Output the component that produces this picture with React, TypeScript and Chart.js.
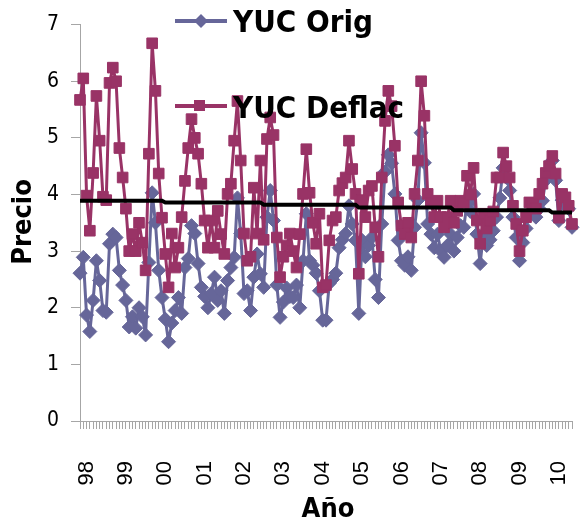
import React, { useEffect, useRef } from "react";
import { Chart, registerables } from "chart.js";

Chart.register(...registerables);

// Year tick labels (one every 12 monthly categories)
const yearLabels = ["98", "99", "00", "01", "02", "03", "04", "05", "06", "07", "08", "09", "10"];

// Monthly price series
const yucOrig = [
  2.61, 2.89, 1.87, 1.58, 2.13, 2.83, 2.48, 1.95, 1.92, 3.13, 3.3, 3.24,
  2.66, 2.4, 2.13, 1.66, 1.84, 1.64, 2.0, 1.84, 1.52, 2.8, 4.03, 3.5,
  2.66, 2.18, 1.8, 1.4, 1.73, 1.95, 2.18, 1.9, 2.71, 2.87, 3.45, 3.31,
  2.78, 2.36, 2.2, 2.0, 2.25, 2.54, 2.13, 2.3, 1.9, 2.48, 2.71, 2.89,
  3.94, 3.31, 2.25, 2.3, 1.95, 2.54, 2.95, 2.6, 2.36, 3.6, 4.07, 3.54,
  2.4, 1.83, 2.1, 2.35, 2.2, 2.18, 2.4, 2.0, 2.83, 3.66, 2.83, 2.75,
  2.61, 2.3, 1.78, 1.78, 2.43, 2.5, 2.61, 3.06, 3.2, 3.31, 3.8, 3.48,
  3.19, 1.9, 3.19, 2.9, 3.1, 3.24, 2.5, 2.18, 3.48, 4.4, 4.7, 4.55,
  4.01, 3.19, 2.83, 2.75, 2.9, 2.66, 3.42, 3.9, 5.09, 4.56, 3.48, 3.3,
  3.06, 3.3, 3.0, 2.89, 3.1, 3.3, 3.0, 3.24, 3.45, 3.42, 3.85, 3.7,
  4.01, 3.3, 2.78, 3.3, 3.1, 3.2, 3.36, 3.6, 3.94, 4.47, 4.3, 4.07,
  3.6, 3.24, 2.83, 3.15, 3.4, 3.66, 3.7, 3.6, 3.75, 3.89, 4.25, 4.4,
  4.6, 4.25, 3.54, 3.9, 3.8, 3.75, 3.42,
];

const yucDeflac = [
  5.67, 6.05, 3.98, 3.36, 4.38, 5.74, 4.95, 3.96, 3.9, 5.97, 6.24, 6.0,
  4.82, 4.3, 3.75, 3.0, 3.3, 3.0, 3.5, 3.15, 2.66, 4.72, 6.67, 5.83,
  4.37, 3.59, 2.95, 2.36, 3.31, 2.71, 3.06, 3.6, 4.24, 4.82, 5.33, 5.0,
  4.72, 4.19, 3.54, 3.06, 3.54, 3.06, 3.71, 3.3, 2.95, 4.01, 4.19, 4.95,
  5.65, 4.6, 3.31, 2.83, 2.9, 4.12, 3.31, 4.6, 3.2, 4.98, 5.36, 5.05,
  3.24, 2.54, 2.9, 3.1, 3.31, 3.0, 2.71, 3.3, 4.01, 4.8, 4.03, 3.5,
  3.13, 3.66, 2.36, 2.4, 3.19, 3.54, 3.6, 4.07, 4.2, 4.3, 4.95, 4.45,
  4.01, 2.6, 3.9, 3.6, 4.07, 4.15, 3.42, 2.9, 4.3, 5.3, 5.83, 5.56,
  4.86, 3.86, 3.45, 3.3, 3.5, 3.24, 4.01, 4.6, 6.0, 5.39, 4.01, 3.85,
  3.6, 3.89, 3.6, 3.42, 3.6, 3.89, 3.5, 3.71, 3.89, 3.85, 4.33, 4.0,
  4.47, 3.54, 3.13, 3.66, 3.4, 3.54, 3.7, 4.3, 4.3, 4.74, 4.5, 4.3,
  3.8, 3.48, 3.0, 3.36, 3.6, 3.86, 3.85, 3.75, 4.01, 4.19, 4.38, 4.5,
  4.68, 4.37, 3.59, 4.01, 3.95, 3.8, 3.48,
];

const trend = [
  3.89, 3.89, 3.89, 3.89, 3.89, 3.89, 3.89, 3.89, 3.89, 3.89, 3.89, 3.89, 3.89,
  3.89, 3.89, 3.89, 3.89, 3.89, 3.89, 3.89, 3.89, 3.89, 3.89, 3.89, 3.89, 3.89,
  3.86, 3.86, 3.86, 3.86, 3.86, 3.86, 3.86, 3.86, 3.86, 3.86, 3.86, 3.86, 3.86, 3.86, 3.86,
  3.86, 3.86, 3.86, 3.86, 3.86, 3.86, 3.86, 3.86, 3.86, 3.86, 3.86, 3.86, 3.86, 3.86, 3.86,
  3.82, 3.82, 3.82, 3.82, 3.82, 3.82, 3.82, 3.82, 3.82, 3.82, 3.82, 3.82, 3.82, 3.82, 3.82,
  3.82, 3.82, 3.82, 3.82, 3.82, 3.82, 3.82, 3.82, 3.82, 3.82, 3.82, 3.82, 3.82, 3.82,
  3.77, 3.77, 3.77, 3.77, 3.77, 3.77, 3.77, 3.77, 3.77, 3.77, 3.77, 3.77, 3.77, 3.77, 3.77,
  3.77, 3.77, 3.77, 3.77, 3.77, 3.77, 3.77, 3.77, 3.77, 3.77, 3.77, 3.77, 3.77, 3.77,
  3.72, 3.72, 3.72, 3.72, 3.72, 3.72, 3.72, 3.72, 3.72, 3.72, 3.72, 3.72, 3.72, 3.72, 3.72,
  3.72, 3.72, 3.72, 3.72, 3.72, 3.72, 3.72, 3.72, 3.72, 3.72, 3.72, 3.72, 3.72, 3.72, 3.72,
  3.68, 3.68, 3.68, 3.68, 3.68, 3.68, 3.68,
];

const ORIG_COLOR = "#666699";
const DEFLAC_COLOR = "#993366";
const AXIS_COLOR = "#a6a6a6";
const NARROW = '"Liberation Sans Narrow", "DejaVu Sans Condensed", "Liberation Sans", sans-serif';

export default function App() {
  const ref = useRef<HTMLCanvasElement>(null);

  useEffect(() => {
    if (!ref.current) return;
    const labels = yucOrig.map((_, i) =>
      i >= 2 && (i - 2) % 12 === 0 ? yearLabels[(i - 2) / 12] ?? "" : ""
    );

    const overlay = {
      id: "overlay",
      afterDraw(chart: any) {
        const ctx = chart.ctx as CanvasRenderingContext2D;
        ctx.save();
        // Legend: YUC Orig
        ctx.strokeStyle = ORIG_COLOR;
        ctx.fillStyle = ORIG_COLOR;
        ctx.lineWidth = 4;
        ctx.beginPath();
        ctx.moveTo(175, 21);
        ctx.lineTo(227, 21);
        ctx.stroke();
        ctx.beginPath();
        ctx.moveTo(201, 14);
        ctx.lineTo(208, 21);
        ctx.lineTo(201, 28);
        ctx.lineTo(194, 21);
        ctx.closePath();
        ctx.fill();
        // Legend: YUC Deflac
        ctx.strokeStyle = DEFLAC_COLOR;
        ctx.fillStyle = DEFLAC_COLOR;
        ctx.beginPath();
        ctx.moveTo(175, 106);
        ctx.lineTo(227, 106);
        ctx.stroke();
        ctx.fillRect(194, 100, 11, 11);

        ctx.fillStyle = "#000";
        ctx.font = `bold 31px ${NARROW}`;
        ctx.textAlign = "left";
        ctx.textBaseline = "alphabetic";
        ctx.fillText("YUC Orig", 233, 32);
        ctx.fillText("YUC Deflac", 233, 118);

        // Axis titles
        ctx.font = `bold 27px ${NARROW}`;
        ctx.textAlign = "center";
        ctx.textBaseline = "middle";
        ctx.fillText("Año", 328, 510);
        ctx.translate(24, 222);
        ctx.rotate(-Math.PI / 2);
        ctx.fillText("Precio", 0, 0);
        ctx.restore();
      },
    };

    const chart = new Chart(ref.current, {
      type: "line",
      data: {
        labels,
        datasets: [
          {
            label: "Tendencia",
            data: trend,
            borderColor: "#000000",
            borderWidth: 4,
            pointRadius: 0,
            order: 0,
          },
          {
            label: "YUC Deflac",
            data: yucDeflac,
            borderColor: DEFLAC_COLOR,
            backgroundColor: DEFLAC_COLOR,
            borderWidth: 3,
            borderJoinStyle: "round",
            pointStyle: "rect",
            pointRadius: 7.5,
            pointBorderWidth: 1,
            order: 1,
          },
          {
            label: "YUC Orig",
            data: yucOrig,
            borderColor: ORIG_COLOR,
            backgroundColor: ORIG_COLOR,
            borderWidth: 3,
            borderJoinStyle: "round",
            pointStyle: "rectRot",
            pointRadius: 7,
            pointBorderWidth: 1,
            order: 2,
          },
        ],
      },
      options: {
        responsive: false,
        animation: false,
        layout: { padding: { top: 23, right: 9, left: 0, bottom: 0 } },
        plugins: {
          legend: { display: false },
          tooltip: { enabled: false },
          title: { display: false },
        },
        scales: {
          x: {
            offset: false,
            grid: { drawOnChartArea: false, tickLength: 8, color: AXIS_COLOR },
            border: { color: AXIS_COLOR },
            ticks: {
              autoSkip: false,
              maxRotation: 90,
              minRotation: 90,
              padding: 32,
              color: "#000",
              font: { family: '"Liberation Sans", sans-serif', size: 22 },
            },
            afterFit: (s: any) => {
              s.height = 105;
              s.paddingLeft = 0;
              s.paddingRight = 0;
            },
          },
          y: {
            min: 0,
            max: 7,
            ticks: {
              stepSize: 1,
              padding: 12,
              color: "#000",
              font: { family: NARROW, size: 21 },
            },
            grid: { drawOnChartArea: false, tickLength: 9, color: AXIS_COLOR },
            border: { color: AXIS_COLOR },
            afterFit: (s: any) => {
              s.width = 80;
            },
          },
        },
      },
      plugins: [overlay],
    } as any);

    return () => chart.destroy();
  }, []);

  return (
    <canvas
      ref={ref}
      width={581}
      height={526}
      style={{ position: "fixed", left: 0, top: 0, width: 581, height: 526 }}
    />
  );
}
